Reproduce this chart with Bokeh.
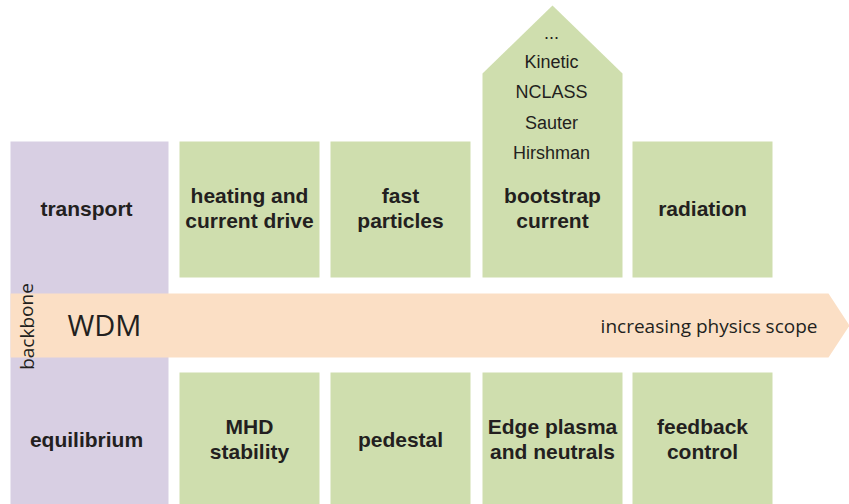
from bokeh.plotting import figure
from bokeh.models import Range1d
from bokeh.core.properties import value
from bokeh.embed import file_html
from bokeh.resources import INLINE

# ---- content ----
backbone_top = "transport"
backbone_bottom = "equilibrium"
top_labels = [["heating and", "current drive"], ["fast", "particles"], ["bootstrap", "current"], ["radiation"]]
bottom_labels = [["MHD", "stability"], ["pedestal"], ["Edge plasma", "and neutrals"], ["feedback", "control"]]
bootstrap_models = ["...", "Kinetic", "NCLASS", "Sauter", "Hirshman"]
arrow_label = "WDM"
arrow_caption = "increasing physics scope"
side_label = "backbone"

PURPLE = "#d8cfe3"
GREEN = "#cfdeae"
PEACH = "#fbdfc5"
INK = "#231f20"

W, H = 849, 504
p = figure(width=W, height=H, output_backend="svg", toolbar_location=None,
           x_range=Range1d(0, W), y_range=Range1d(H, 0),
           min_border=0, outline_line_color=None)
p.axis.visible = False
p.grid.visible = False
p.background_fill_color = "white"
p.border_fill_color = "white"

# layout (pixel-like coordinates)
col_left = [179, 330, 482, 632]
col_w = 140
top_y0, top_y1 = 141, 277
bot_y0, bot_y1 = 372, 504

# backbone column
p.quad(left=[10], right=[168], top=[141], bottom=[504], fill_color=PURPLE, line_color=None)

# top row boxes (3rd is a pentagon)
for i, xl in enumerate(col_left):
    if i == 2:
        xs = [xl, xl, xl + col_w / 2, xl + col_w, xl + col_w]
        ys = [top_y1, 73, 5, 73, top_y1]
        p.patch(xs, ys, fill_color=GREEN, line_color=None)
    else:
        p.quad(left=[xl], right=[xl + col_w], top=[top_y0], bottom=[top_y1],
               fill_color=GREEN, line_color=None)
    p.quad(left=[xl], right=[xl + col_w], top=[bot_y0], bottom=[bot_y1],
           fill_color=GREEN, line_color=None)

# arrow
p.patch([10, 828, 849, 828, 10], [293, 293, 325, 357, 357], fill_color=PEACH, line_color=None)

bold = dict(text_font=value("Liberation Sans"), text_font_style="bold", text_font_size="21px",
            text_color=INK, text_align="center", text_baseline="middle")

def label(x, y, lines, style):
    n = len(lines)
    step = 25
    y0 = y - step * (n - 1) / 2
    p.text(x=[x] * n, y=[y0 + k * step for k in range(n)], text=lines, **style)

label(86, 208, [backbone_top], bold)
label(86, 439, [backbone_bottom], bold)
for xl, lines in zip(col_left, top_labels):
    label(xl + col_w / 2, 207.5, lines, bold)
for xl, lines in zip(col_left, bottom_labels):
    label(xl + col_w / 2, 438.5, lines, bold)

# bootstrap models
p.text(x=[551] * len(bootstrap_models), y=[32, 61, 91, 122, 152], text=bootstrap_models,
       text_font=value("Liberation Sans"), text_font_size="18px", text_color=INK,
       text_align="center", text_baseline="middle")

p.text(x=[104], y=[324], text=[arrow_label], text_font=value("Open Sans"), text_font_size="29px",
       text_color=INK, text_align="center", text_baseline="middle")
p.text(x=[817], y=[325], text=[arrow_caption], text_font=value("Open Sans"), text_font_size="19px",
       text_color=INK, text_align="right", text_baseline="middle")
p.text(x=[26], y=[326], text=[side_label], angle=1.5708, text_font=value("Open Sans"),
       text_font_size="19px", text_color=INK, text_align="center", text_baseline="middle")

open("out.html", "w").write(file_html(p, INLINE))
